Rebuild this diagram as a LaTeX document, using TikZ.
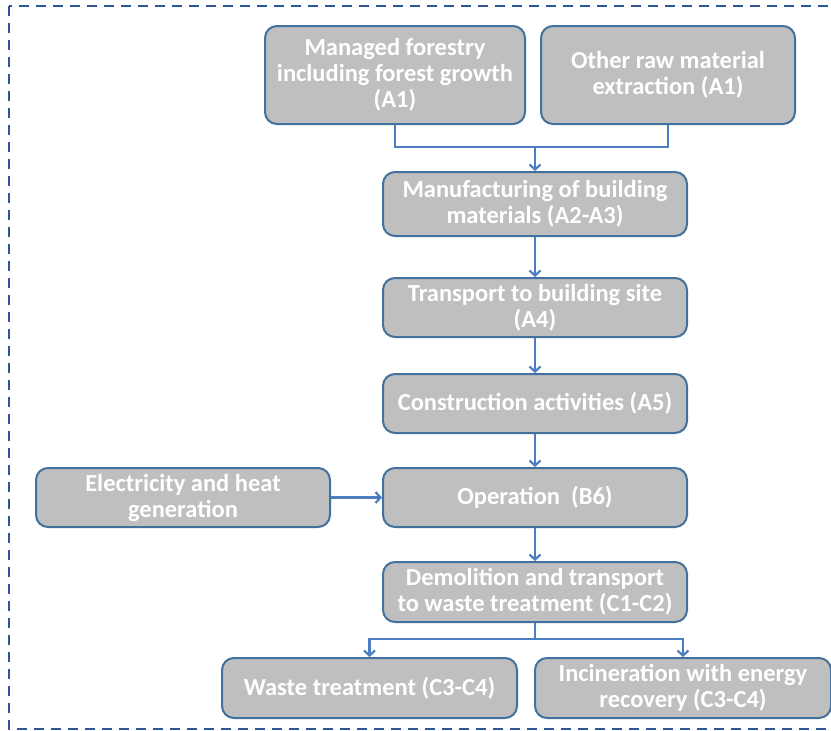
\documentclass[tikz,border=0pt]{standalone}
\usepackage{fontspec}
\setmainfont{Carlito}
\usetikzlibrary{arrows.meta}
\definecolor{boxedge}{RGB}{65,113,156}
\definecolor{linkblue}{RGB}{74,126,193}
\definecolor{frameblue}{RGB}{47,85,151}
\definecolor{boxfill}{RGB}{191,191,191}
\begin{document}
\begin{tikzpicture}[x=1pt, y=-1pt, >={Straight Barb[length=5pt,width=11pt]},
	stage/.style={draw=boxedge, line width=2pt, fill=boxfill, rounded corners=12pt,
		text=white, align=center, inner sep=2pt,
		font=\fontsize{24.5}{26}\selectfont\bfseries},
	link/.style={draw=linkblue, line width=2.2pt}]
	\useasboundingbox (0,0) rectangle (831,731);
	\clip (0,0) rectangle (831,731);
	\draw[frameblue, line width=2pt, dash pattern=on 10pt off 7pt] (9,6) rectangle (860,729);
	% raw materials
	\node[stage, minimum width=260pt, minimum height=98pt] (forest) at (395,75) {Managed forestry\\including forest growth\\(A1)};
	\node[stage, minimum width=254pt, minimum height=98pt] (rawmat) at (668,75) {Other raw material\\extraction (A1)};
	% building life cycle
	\node[stage, minimum width=304pt, minimum height=64pt] (manuf) at (535,204) {Manufacturing of building\\materials (A2-A3)};
	\node[stage, minimum width=304pt, minimum height=59pt] (transp) at (535,307.5) {Transport to building site\\(A4)};
	\node[stage, minimum width=304pt, minimum height=59pt] (constr) at (535,403.5) {Construction activities (A5)};
	\node[stage, minimum width=304pt, minimum height=59pt] (oper) at (535,497.5) {Operation~~(B6)};
	\node[stage, minimum width=294pt, minimum height=59pt] (elec) at (183,497.5) {Electricity and heat\\generation};
	\node[stage, minimum width=304pt, minimum height=60pt] (demol) at (535,592) {Demolition and transport\\to waste treatment (C1-C2)};
	% end of life
	\node[stage, minimum width=295pt, minimum height=60pt] (waste) at (369.5,688) {Waste treatment (C3-C4)};
	\node[stage, minimum width=296pt, minimum height=60pt] (incin) at (683,688) {Incineration with energy\\recovery (C3-C4)};
	% connectors
	\coordinate (join) at (535,147);
	\draw[link] (forest.south) |- (join) -| (rawmat.south);
	\draw[link,->] (join) -- (manuf.north);
	\draw[link,->] (manuf) -- (transp);
	\draw[link,->] (transp) -- (constr);
	\draw[link,->] (constr) -- (oper);
	\draw[link,->] (elec) -- (oper);
	\draw[link,->] (oper) -- (demol);
	\coordinate (split) at (535,639);
	\draw[link] (demol.south) -- (split);
	\draw[link,->] (split) -| (waste.north);
	\draw[link,->] (split) -| (incin.north);
\end{tikzpicture}
\end{document}
